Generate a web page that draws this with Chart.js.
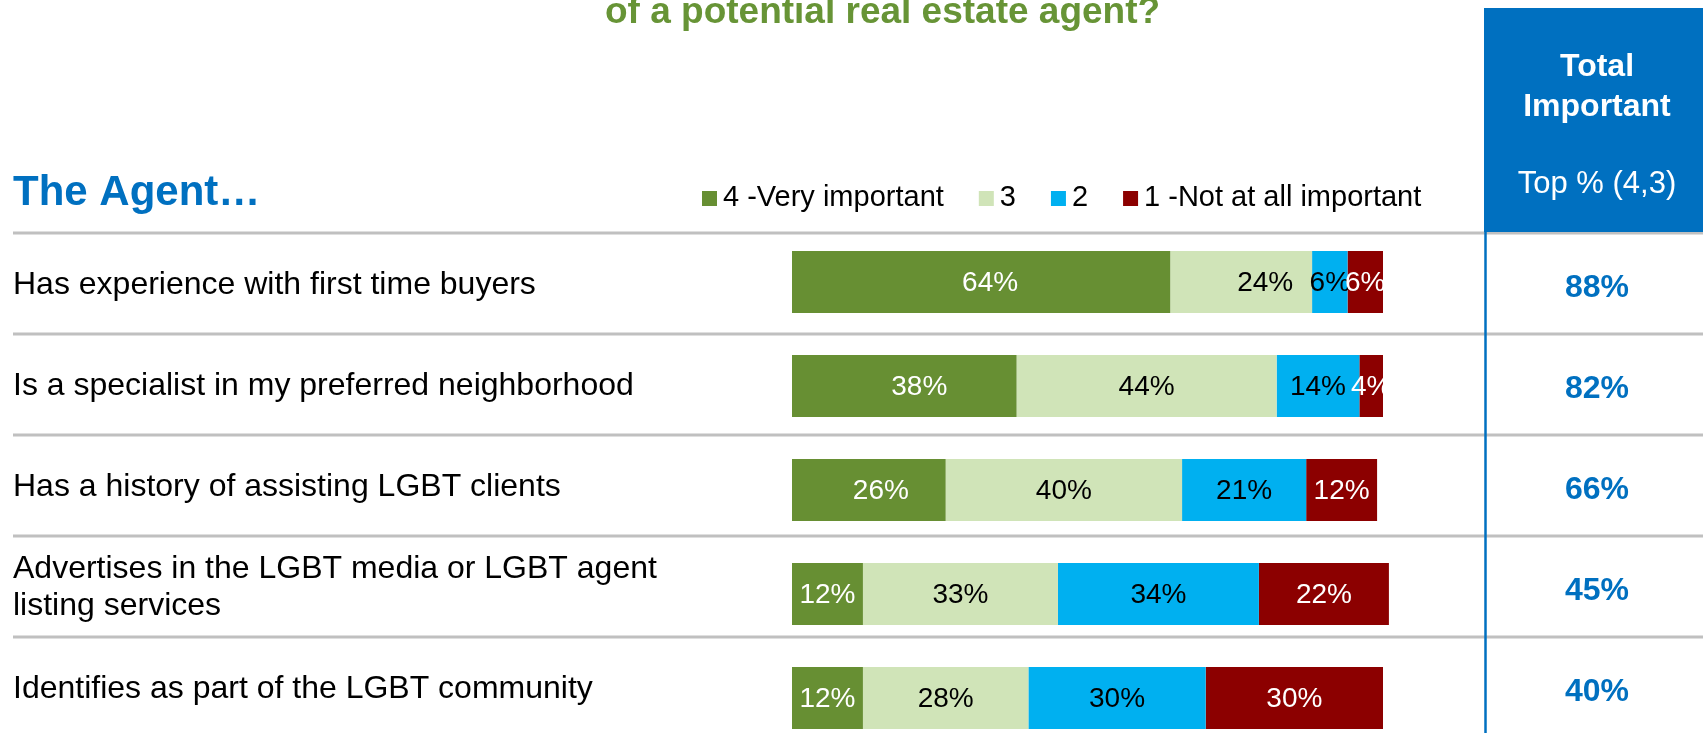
<!DOCTYPE html>
<html>
<head>
<meta charset="utf-8">
<script src="https://cdn.jsdelivr.net/npm/chart.js@4/dist/chart.umd.min.js"></script>
<style>
  html, body { margin: 0; padding: 0; background: #fff; overflow: hidden; }
  #wrap { position: relative; width: 1703px; height: 760px; }
</style>
</head>
<body>
<div id="wrap"><canvas id="agentChart"></canvas></div>
<script>
// survey rows and the four answer levels (percent of respondents)
const categories = [
    "Has experience with first time buyers",
    "Is a specialist in my preferred neighborhood",
    "Has a history of assisting LGBT clients",
    ["Advertises in the LGBT media or LGBT agent", "listing services"],
    "Identifies as part of the LGBT community"
];
const seriesLabels = ["4 -Very important", "3", "2", "1 -Not at all important"];
const veryImportant = [64, 38, 26, 12, 12];
const important3 = [24, 44, 40, 33, 28];
const important2 = [6, 14, 21, 34, 30];
const notImportant = [6, 4, 12, 22, 30];

const COLORS = ["#678F33", "#D0E4B8", "#00B0F0", "#8C0000"];
const LABEL_COLORS = ["#FFFFFF", "#000000", "#000000", "#FFFFFF"];
const BLUE = "#0070C0";
const FONT = "'Liberation Sans', Arial, sans-serif";

// table grid: first separator and row pitch (px)
const SEP_TOP = 233;
const ROW_PITCH = 101;
// a few value labels sit off-centre in their segment: "dataset,row" -> px
const labelNudge = { "0,0": 9, "1,0": 24, "0,1": 15, "0,2": 12 };

// top-2 box: levels 4 and 3 together
const totalImportant = veryImportant.map((v, i) => v + important3[i]);

// table decoration drawn around the bars
const tablePlugin = {
    id: "tableDecor",
    beforeDatasetsDraw(chart) {
        const ctx = chart.ctx;
        ctx.save();

        // title (second line of the question)
        ctx.fillStyle = "#679436";
        ctx.font = `bold 37px ${FONT}`;
        ctx.textAlign = "left";
        ctx.textBaseline = "alphabetic";
        ctx.fillText("of a potential real estate agent?", 605, 23);

        // row separators
        ctx.strokeStyle = "#C0C0C0";
        ctx.lineWidth = 3;
        for (let k = 0; k < categories.length; k++) {
            const sy = SEP_TOP + k * ROW_PITCH;
            ctx.beginPath();
            ctx.moveTo(13, sy);
            ctx.lineTo(1703, sy);
            ctx.stroke();
        }

        // header box of the right column
        ctx.fillStyle = BLUE;
        ctx.fillRect(1484, 8, 219, 224);
        ctx.fillStyle = "#FFFFFF";
        ctx.textAlign = "center";
        ctx.textBaseline = "middle";
        ctx.font = `bold 32px ${FONT}`;
        ctx.fillText("Total", 1597, 67);
        ctx.fillText("Important", 1597, 107);
        ctx.font = `31px ${FONT}`;
        ctx.fillText("Top % (4,3)", 1597, 184);

        // vertical rule under the header
        ctx.strokeStyle = BLUE;
        ctx.lineWidth = 2.5;
        ctx.beginPath();
        ctx.moveTo(1485.5, 232);
        ctx.lineTo(1485.5, 760);
        ctx.stroke();

        // section heading
        ctx.fillStyle = BLUE;
        ctx.textAlign = "left";
        ctx.textBaseline = "alphabetic";
        ctx.font = `bold 42px ${FONT}`;
        ctx.fillText("The Agent\u2026", 13, 205);

        // legend
        ctx.font = `29px ${FONT}`;
        let lx = 702;
        chart.data.datasets.forEach((ds) => {
            ctx.fillStyle = ds.backgroundColor;
            ctx.fillRect(lx, 191, 15, 15);
            ctx.fillStyle = "#000000";
            ctx.fillText(ds.label, lx + 21, 206);
            lx += 21 + ctx.measureText(ds.label).width + 35;
        });

        // row labels and top-2 totals, centred in their table rows
        categories.forEach((cat, i) => {
            const cy = SEP_TOP + i * ROW_PITCH;
            ctx.fillStyle = "#000000";
            ctx.font = `32px ${FONT}`;
            ctx.textAlign = "left";
            ctx.textBaseline = "middle";
            const lines = Array.isArray(cat) ? cat : [cat];
            lines.forEach((ln, j) => {
                ctx.fillText(ln, 13, cy + 52 + (j - (lines.length - 1) / 2) * 37);
            });
            ctx.fillStyle = BLUE;
            ctx.font = `bold 32px ${FONT}`;
            ctx.textAlign = "center";
            ctx.fillText(totalImportant[i] + "%", 1597, cy + 55);
        });
        ctx.restore();
    },
    afterDatasetsDraw(chart) {
        // value labels inside each segment
        const ctx = chart.ctx;
        ctx.save();
        ctx.font = `28px ${FONT}`;
        ctx.textAlign = "center";
        ctx.textBaseline = "middle";
        chart.data.datasets.forEach((ds, di) => {
            const meta = chart.getDatasetMeta(di);
            meta.data.forEach((bar, i) => {
                const dx = labelNudge[di + "," + i] || 0;
                ctx.fillStyle = LABEL_COLORS[di];
                ctx.fillText(ds.data[i] + "%", (bar.x + bar.base) / 2 + dx, bar.y + 1);
            });
        });
        ctx.restore();
    }
};

const seriesData = [veryImportant, important3, important2, notImportant];

new Chart(document.getElementById("agentChart"), {
    type: "bar",
    data: {
        labels: categories,
        datasets: seriesData.map((d, i) => ({
            label: seriesLabels[i],
            data: d,
            backgroundColor: COLORS[i],
            borderWidth: 0,
            barPercentage: 0.596,
            categoryPercentage: 1,
            clip: false
        }))
    },
    options: {
        indexAxis: "y",
        responsive: true,
        maintainAspectRatio: false,
        animation: false,
        layout: { padding: { left: 792, right: 320, top: 230, bottom: 10 } },
        plugins: {
            legend: { display: false },
            tooltip: { enabled: false }
        },
        scales: {
            x: { stacked: true, min: 0, max: 100, display: false },
            y: { stacked: true, display: false }
        }
    },
    plugins: [tablePlugin]
});
</script>
</body>
</html>
